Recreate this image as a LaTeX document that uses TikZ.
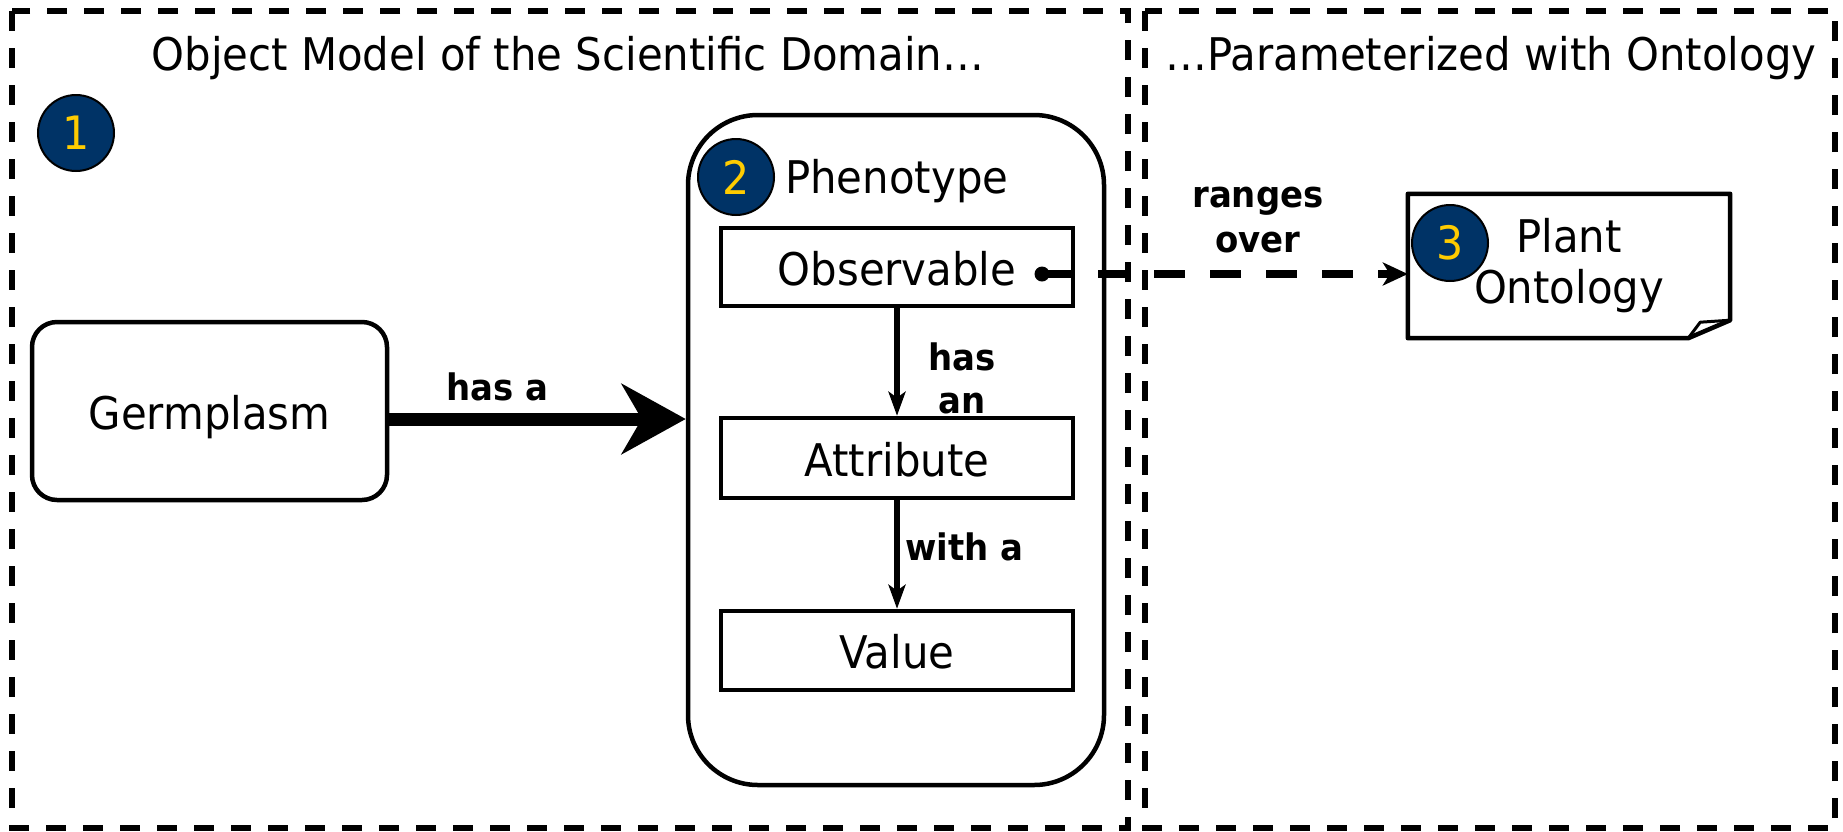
\documentclass[tikz,border=0pt]{standalone}
\usepackage{fontspec}
\setmainfont{DejaVu Sans}[FakeStretch=0.93]
\usetikzlibrary{arrows.meta,calc}
\definecolor{badgefill}{HTML}{003366}
\definecolor{badgetext}{HTML}{FFCC00}

\begin{document}
\begin{tikzpicture}[x=1pt,y=-1pt,
  region/.style={draw, line width=5.5pt, dash pattern=on 20pt off 17pt},
  heading/.style={font=\fontsize{45}{54}\selectfont, anchor=base, inner sep=0},
  badge/.style={circle, draw, line width=2pt, fill=badgefill, text=badgetext,
    minimum size=76pt, inner sep=0, font=\fontsize{46}{46}\selectfont},
  entity/.style={draw, line width=4.5pt, rounded corners=25pt, minimum width=355pt,
    minimum height=178pt, inner sep=0, font=\fontsize{45}{54}\selectfont,
    text height=36pt, text depth=0pt},
  part/.style={draw, line width=4.5pt, minimum width=352pt, inner sep=0,
    font=\fontsize{45}{54}\selectfont, text height=36pt, text depth=0pt},
  relation/.style={font=\bfseries\fontsize{36.5}{43}\selectfont, inner sep=0, align=center},
  hasarrow/.style={line width=13pt, -{Stealth[length=64pt, width=70pt, inset=20pt]}},
  downarrow/.style={line width=6pt, -{Stealth[length=24pt, width=17pt, inset=6pt]}},
  rangearrow/.style={line width=8pt, dash pattern=on 31pt off 25pt,
    -{Stealth[length=25pt, width=23pt, inset=7pt]}},
]
\useasboundingbox (0,0) rectangle (1843,831);

% the two dashed regions and their headings
\draw[region] (12,11) rectangle (1128,828);
\draw[region] (1145,11) rectangle (1835,828);
\node[heading] (title1) at (568,70) {Object Model of the Scientific Domain…};
\node[heading] (title2) at (1491,70) {…Parameterized with Ontology};

\node[badge] (b1) at (76,133) {1};

% germplasm entity
\node[entity] (germ) at (209.5,411) {Germplasm};

% phenotype container with its parts
\node[draw, line width=4.5pt, rounded corners=70pt, minimum width=416pt,
  minimum height=670pt, inner sep=0] (phen) at (896,450) {};
\node[badge] (b2) at (736,177) {2};
\node[font=\fontsize{45}{54}\selectfont, anchor=base west, inner sep=0] (phenlabel) at (785,193) {Phenotype};

\node[part, minimum height=78pt] (obs) at (897,267) {Observable};
\node[part, minimum height=80pt] (attr) at (897,458) {Attribute};
\node[part, minimum height=79pt] (val) at (897,650.5) {Value};

% ontology document
\node[inner sep=0, minimum width=322pt, minimum height=144pt, align=center,
  font=\fontsize{45}{51}\selectfont] (onto) at (1569,266) {Plant\\Ontology};
\draw[line width=4.5pt, line join=round]
  (onto.north west) -- (onto.north east) -- ([yshift=18pt]onto.south east)
  -- ([xshift=-42pt]onto.south east) -- (onto.south west) -- cycle;
\draw[line width=3pt, line join=round]
  ([xshift=-42pt]onto.south east) -- ([xshift=-30pt, yshift=16pt]onto.south east)
  -- ([yshift=18pt]onto.south east);
\node[badge] (b3) at (1450,243) {3};

% relations
\coordinate (hasA) at ([yshift=-8pt]germ.east);
\draw[hasarrow] (hasA) -- (hasA -| phen.west);
\node[relation, anchor=base] (lhasa) at (497,400) {has a};

\draw[downarrow] (obs.south) -- (attr.north);
\node[relation, anchor=north] (lhasan) at (962,343) {has\\an};

\draw[downarrow] (attr.south) -- (val.north);
\node[relation, anchor=base west] (lwitha) at (905,560) {with a};

\node[circle, fill, inner sep=0, minimum size=15pt] (dot) at (1042,274) {};
\draw[rangearrow] (dot.center) -- (dot -| onto.west);
\node[relation, anchor=north, font=\bfseries\fontsize{36.5}{45}\selectfont] (lranges) at (1258,187) {ranges\\over};
\end{tikzpicture}
\end{document}
